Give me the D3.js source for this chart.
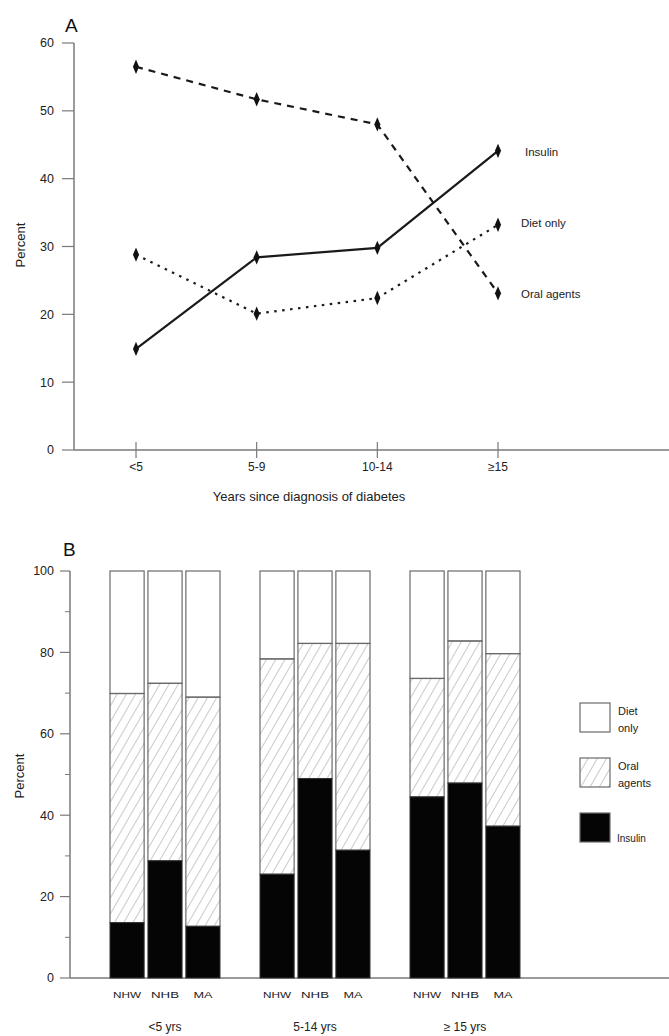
<!DOCTYPE html>
<html>
<head>
<meta charset="utf-8">
<script src="https://cdn.jsdelivr.net/npm/d3@7"></script>
<style>
  html, body { margin: 0; padding: 0; background: #fff; }
  svg { display: block; font-family: "Liberation Sans", Arial, sans-serif; }
</style>
</head>
<body>
<svg id="chart" width="669" height="1036"></svg>
<script>
// ---------- Panel A data ----------
const yearCats = ["<5", "5-9", "10-14", "\u226515"];
const insulinA = [14.9, 28.4, 29.8, 44.1];
const oralA    = [56.5, 51.7, 48.0, 23.1];
const dietA    = [28.8, 20.1, 22.4, 33.2];
const yTicksA  = [0, 10, 20, 30, 40, 50, 60];

// ---------- Panel B data ----------
const groupsB = ["<5 yrs", "5-14 yrs", "\u2265 15 yrs"];
const racesB  = ["NHW", "NHB", "MA"];
// insulin share, and cumulative top of oral agents (insulin + oral)
const insulinB = [[13.6, 28.8, 12.7], [25.5, 49.0, 31.4], [44.5, 47.9, 37.3]];
const oralTopB = [[69.9, 72.4, 69.0], [78.4, 82.2, 82.2], [73.6, 82.8, 79.7]];
const yTicksB  = [0, 20, 40, 60, 80, 100];
const yMinorB  = [10, 30, 50, 70, 90];

const svg = d3.select("#chart");
const axisColor = "#7a7a7a";
const lineColor = "#1a1a1a";

// hatch pattern
const defs = svg.append("defs");
const pat = defs.append("pattern")
  .attr("id", "hatch").attr("patternUnits", "userSpaceOnUse")
  .attr("width", 8).attr("height", 8)
  .attr("patternTransform", "rotate(30)");
pat.append("line").attr("x1", 0).attr("y1", 0).attr("x2", 0).attr("y2", 8)
  .attr("stroke", "#8a8a8a").attr("stroke-width", 0.9);

// ================= PANEL A =================
const xA = d3.scalePoint().domain(yearCats).range([136, 498]);
const yA = d3.scaleLinear().domain([0, 60]).range([450, 43]);
const axLeftA = 74;

const gA = svg.append("g");
gA.append("line").attr("x1", axLeftA).attr("x2", axLeftA)
  .attr("y1", yA(60)).attr("y2", yA(0))
  .attr("stroke", axisColor).attr("stroke-width", 1.5);
gA.append("line").attr("x1", axLeftA).attr("x2", 669)
  .attr("y1", yA(0)).attr("y2", yA(0))
  .attr("stroke", axisColor).attr("stroke-width", 1.5);
yTicksA.forEach(t => {
  gA.append("line").attr("x1", axLeftA - 12).attr("x2", axLeftA)
    .attr("y1", yA(t)).attr("y2", yA(t))
    .attr("stroke", axisColor).attr("stroke-width", 1.2);
  gA.append("text").attr("x", axLeftA - 20).attr("y", yA(t))
    .attr("dy", "0.35em").attr("text-anchor", "end")
    .attr("font-size", 12.5).attr("fill", "#222").text(t);
});
yearCats.forEach(c => {
  gA.append("line").attr("x1", xA(c)).attr("x2", xA(c))
    .attr("y1", yA(0) - 8).attr("y2", yA(0) + 8)
    .attr("stroke", axisColor).attr("stroke-width", 1.2);
  gA.append("text").attr("x", xA(c)).attr("y", yA(0) + 17)
    .attr("dy", "0.35em").attr("text-anchor", "middle")
    .attr("font-size", 12).attr("fill", "#222").text(c);
});
gA.append("text").attr("x", 309).attr("y", 496).attr("dy", "0.35em")
  .attr("text-anchor", "middle").attr("font-size", 13).attr("fill", "#222")
  .text("Years since diagnosis of diabetes");
gA.append("text").attr("transform", `translate(20,${245}) rotate(-90)`)
  .attr("text-anchor", "middle").attr("dy", "0.35em")
  .attr("font-size", 13).attr("fill", "#222").text("Percent");
gA.append("text").attr("x", 65).attr("y", 32)
  .attr("font-size", 19).attr("fill", "#111").text("A");

const lineA = d3.line().x((d, i) => xA(yearCats[i])).y(d => yA(d));
const seriesA = [
  { name: "Oral agents", values: oralA, dash: "7,6", lx: 521, ly: 294 },
  { name: "Diet only",   values: dietA, dash: "2.5,5.5", lx: 521, ly: 223 },
  { name: "Insulin",     values: insulinA, dash: null, lx: 525, ly: 152 }
];
seriesA.forEach(s => {
  gA.append("path").attr("d", lineA(s.values))
    .attr("fill", "none").attr("stroke", lineColor).attr("stroke-width", 2.2)
    .attr("stroke-dasharray", s.dash);
  const sym = d3.symbol().type(d3.symbolDiamond).size(45);
  s.values.forEach((v, i) => {
    gA.append("path").attr("d", sym())
      .attr("transform", `translate(${xA(yearCats[i])},${yA(v)}) scale(0.85,1.15)`)
      .attr("fill", "#111");
  });
  gA.append("text").attr("x", s.lx).attr("y", s.ly).attr("dy", "0.35em")
    .attr("font-size", 11.5).attr("fill", "#222").text(s.name);
});

// ================= PANEL B =================
const yB = d3.scaleLinear().domain([0, 100]).range([978, 571]);
const axLeftB = 70;
const xGroup = d3.scaleBand().domain(groupsB).range([110, 520]).paddingInner(40 / 150);
const xRace = d3.scaleBand().domain(racesB).range([0, xGroup.bandwidth()]).paddingInner(0.1);

const gB = svg.append("g");
gB.append("line").attr("x1", axLeftB).attr("x2", axLeftB)
  .attr("y1", yB(100)).attr("y2", yB(0))
  .attr("stroke", axisColor).attr("stroke-width", 1.5);
gB.append("line").attr("x1", axLeftB).attr("x2", 669)
  .attr("y1", yB(0)).attr("y2", yB(0))
  .attr("stroke", axisColor).attr("stroke-width", 1.5);
yTicksB.forEach(t => {
  gB.append("line").attr("x1", axLeftB - 10).attr("x2", axLeftB)
    .attr("y1", yB(t)).attr("y2", yB(t))
    .attr("stroke", axisColor).attr("stroke-width", 1.2);
  gB.append("text").attr("x", axLeftB - 16).attr("y", yB(t))
    .attr("dy", "0.35em").attr("text-anchor", "end")
    .attr("font-size", 12.5).attr("fill", "#222").text(t);
});
yMinorB.forEach(t => {
  gB.append("line").attr("x1", axLeftB - 5).attr("x2", axLeftB)
    .attr("y1", yB(t)).attr("y2", yB(t))
    .attr("stroke", axisColor).attr("stroke-width", 1);
});
gB.append("text").attr("transform", `translate(19,${776}) rotate(-90)`)
  .attr("text-anchor", "middle").attr("dy", "0.35em")
  .attr("font-size", 13).attr("fill", "#222").text("Percent");
gB.append("text").attr("x", 63).attr("y", 556)
  .attr("font-size", 19).attr("fill", "#111").text("B");

groupsB.forEach((g, gi) => {
  racesB.forEach((r, ri) => {
    const x = xGroup(g) + xRace(r);
    const w = xRace.bandwidth();
    const ins = insulinB[gi][ri], top = oralTopB[gi][ri];
    gB.append("rect").attr("x", x).attr("y", yB(100)).attr("width", w)
      .attr("height", yB(top) - yB(100))
      .attr("fill", "#fff").attr("stroke", "#6a6a6a").attr("stroke-width", 1.2);
    gB.append("rect").attr("x", x).attr("y", yB(top)).attr("width", w)
      .attr("height", yB(ins) - yB(top))
      .attr("fill", "url(#hatch)").attr("stroke", "#6a6a6a").attr("stroke-width", 1.2);
    gB.append("rect").attr("x", x).attr("y", yB(ins)).attr("width", w)
      .attr("height", yB(0) - yB(ins))
      .attr("fill", "#050505").attr("stroke", "#333").attr("stroke-width", 1);
    gB.append("text").attr("x", x + w / 2).attr("y", 995).attr("dy", "0.35em")
      .attr("text-anchor", "middle").attr("font-size", 9.5).attr("fill", "#222")
      .attr("textLength", r === "MA" ? 19 : 28).attr("lengthAdjust", "spacingAndGlyphs")
      .text(r);
  });
  gB.append("text").attr("x", xGroup(g) + xGroup.bandwidth() / 2).attr("y", 1027)
    .attr("dy", "0.35em").attr("text-anchor", "middle")
    .attr("font-size", 12).attr("fill", "#222").text(g);
});

// legend
const legend = [
  { label: ["Diet", "only"], fill: "#fff", y: 703 },
  { label: ["Oral", "agents"], fill: "url(#hatch)", y: 758 },
  { label: ["Insulin"], fill: "#050505", y: 813 }
];
legend.forEach(l => {
  gB.append("rect").attr("x", 580).attr("y", l.y).attr("width", 30).attr("height", 29)
    .attr("fill", l.fill).attr("stroke", "#6a6a6a").attr("stroke-width", 1.2);
  if (l.label.length === 2) {
    gB.append("text").attr("x", 618).attr("y", l.y + 8).attr("dy", "0.35em")
      .attr("font-size", 11).attr("fill", "#222").text(l.label[0]);
    gB.append("text").attr("x", 618).attr("y", l.y + 25).attr("dy", "0.35em")
      .attr("font-size", 11).attr("fill", "#222").text(l.label[1]);
  } else {
    gB.append("text").attr("x", 617).attr("y", l.y + 25).attr("dy", "0.35em")
      .attr("font-size", 10).attr("fill", "#222").text(l.label[0]);
  }
});
</script>
</body>
</html>
